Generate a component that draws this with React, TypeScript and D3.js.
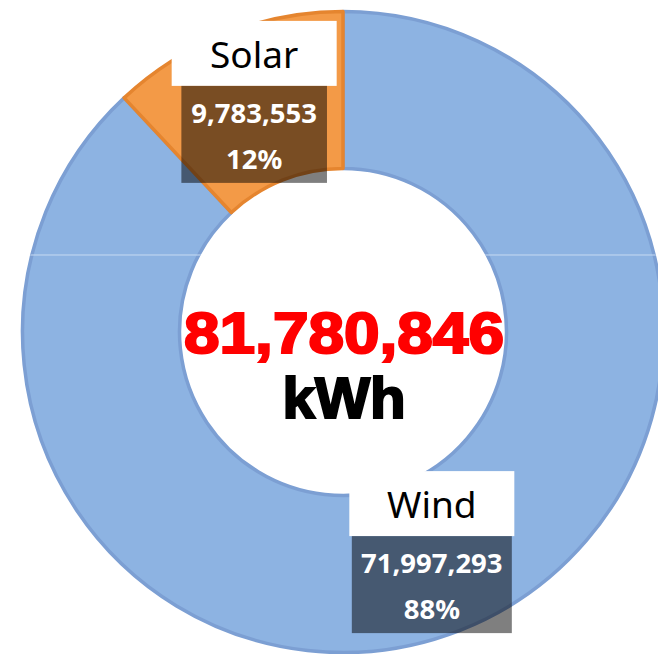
import React from "react";
import * as d3 from "d3";

const categories = ["Wind", "Solar"];
const values = [71997293, 9783553];
const totalLabel = ["81,780,846", "kWh"];
const fills = ["#8db3e2", "#f39a47"];
const strokes = ["#7c9fd3", "#e5852f"];

const W = 658;
const H = 654;
const cx = 343;
const cy = 332;
const outerR = 322;
const innerR = 162;

export default function App() {
  const pie = d3
    .pie<number>()
    .sort(null)
    .value((d) => d)
    .startAngle(0)
    .endAngle(2 * Math.PI);
  const arcs = pie(values);
  const arcGen = d3.arc<d3.PieArcDatum<number>>().innerRadius(innerR + 1.5).outerRadius(outerR - 1.5);
  const ringArc = d3.arc()({ innerRadius: innerR, outerRadius: outerR, startAngle: 0, endAngle: 2 * Math.PI }) as string;
  const total = d3.sum(values);
  const fmtNum = d3.format(",");
  const fmtPct = d3.format(".0%");
  const midArc = d3.arc<d3.PieArcDatum<number>>().innerRadius(innerR).outerRadius(outerR);

  return (
    <svg
      width={W}
      height={H}
      style={{ position: "fixed", left: 0, top: 0, background: "#fff" }}
    >
      <defs>
        <clipPath id="ring">
          <path d={ringArc} transform={`translate(${cx},${cy})`} />
        </clipPath>
      </defs>
      <g transform={`translate(${cx},${cy})`}>
        {arcs.map((a, i) => (
          <path key={i} d={arcGen(a) as string} fill={fills[i]} stroke={strokes[i]} strokeWidth={3.5} strokeLinejoin="round" />
        ))}
      </g>
      <line x1={0} x2={W} y1={255} y2={255} stroke="#c6daf2" strokeWidth={1} clipPath="url(#ring)" />
      <g>
        {arcs.map((a, i) => {
          const [mx, my] = midArc.centroid(a);
          const bx = cx + mx;
          const top = cy + my - 86;
          const numText = fmtNum(values[i]);
          const pctText = fmtPct(values[i] / total);
          const darkW = numText.length * 14.4 + 16;
          return (
            <g key={i}>
              <rect x={bx - 82.5} y={top} width={165} height={65} fill="#ffffff" />
              <rect x={bx - darkW / 2} y={top + 65} width={darkW} height={97} fill="rgba(0,0,0,0.5)" />
              <text x={bx} y={top + 47} textAnchor="middle" fontFamily="'Noto Sans', sans-serif" fontSize={37} fill="#000">
                {categories[i]}
              </text>
              <text x={bx} y={top + 102} textAnchor="middle" fontFamily="'Noto Sans', sans-serif" fontWeight={700} fontSize={27.5} fill="#fff">
                {numText}
              </text>
              <text x={bx} y={top + 148} textAnchor="middle" fontFamily="'Noto Sans', sans-serif" fontWeight={700} fontSize={27.5} fill="#fff">
                {pctText}
              </text>
            </g>
          );
        })}
      </g>
      <text
        x={344}
        y={353}
        textAnchor="middle"
        fontFamily="'Liberation Sans', Arial, sans-serif"
        fontWeight={700}
        fontSize={58}
        fill="#ff0000"
        stroke="#ff0000"
        strokeWidth={2.2}
        textLength={320}
        lengthAdjust="spacingAndGlyphs"
      >
        {totalLabel[0]}
      </text>
      <text
        x={344}
        y={418}
        textAnchor="middle"
        fontFamily="'Liberation Sans', Arial, sans-serif"
        fontWeight={700}
        fontSize={57}
        fill="#000"
        stroke="#000"
        strokeWidth={2.2}
        textLength={123}
        lengthAdjust="spacingAndGlyphs"
      >
        {totalLabel[1]}
      </text>
    </svg>
  );
}
